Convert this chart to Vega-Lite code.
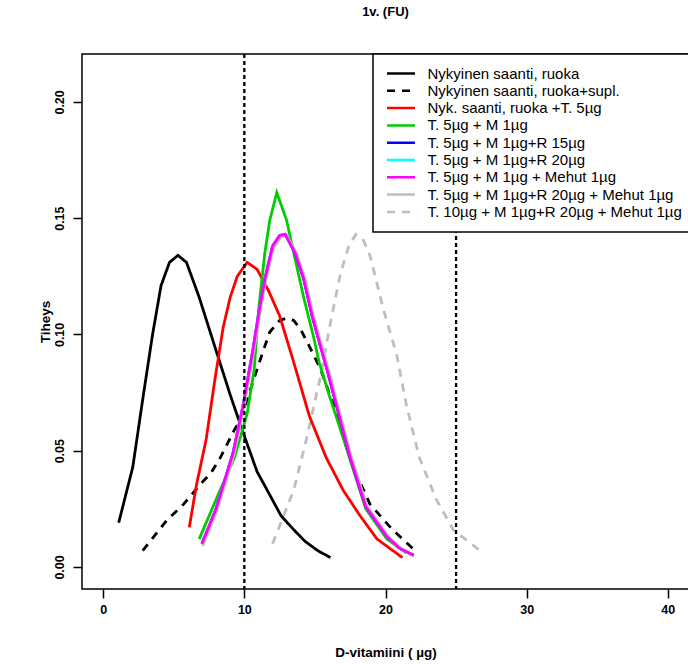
{
  "$schema": "https://vega.github.io/schema/vega-lite/v6.json",
  "width": 607,
  "height": 535,
  "autosize": {"type": "none"},
  "padding": {"left": 82, "top": 54, "right": 0, "bottom": 75},
  "title": {"text": "1v. (FU)", "fontSize": 13, "fontWeight": "bold", "font": "Liberation Sans", "color": "black", "anchor": "middle", "frame": "group", "baseline": "middle", "offset": 28},
  "config": {
    "font": "Liberation Sans",
    "view": {"stroke": "black", "strokeWidth": 1.5},
    "axis": {"domain": false, "grid": false, "tickColor": "black", "tickWidth": 1.5, "tickSize": 9, "labelFont": "Liberation Sans", "labelFontWeight": "bold", "labelFontSize": 12.5, "labelColor": "black", "titleFont": "Liberation Sans", "titleFontWeight": "bold", "titleFontSize": 13.5, "titleColor": "black"},
    "legend": {"orient": "none", "legendX": 291, "legendY": 0, "title": null, "strokeColor": "black", "fillColor": "white", "padding": 12, "labelFontSize": 15, "labelFont": "Liberation Sans", "labelColor": "black", "labelLimit": 500, "symbolType": "M-2.33,0H2.33", "symbolSize": 144, "symbolStrokeWidth": 2.5, "symbolOffset": 8.5, "labelOffset": 19, "rowPadding": 1.3, "cornerRadius": 0}
  },
  "layer": [
    {
      "data": {"values": [
        {"s": "T. 10µg + M 1µg+R 20µg + Mehut 1µg", "x": 12.0, "y": 0.010},
        {"s": "T. 10µg + M 1µg+R 20µg + Mehut 1µg", "x": 13.5, "y": 0.033},
        {"s": "T. 10µg + M 1µg+R 20µg + Mehut 1µg", "x": 14.4, "y": 0.055},
        {"s": "T. 10µg + M 1µg+R 20µg + Mehut 1µg", "x": 15.4, "y": 0.082},
        {"s": "T. 10µg + M 1µg+R 20µg + Mehut 1µg", "x": 16.1, "y": 0.105},
        {"s": "T. 10µg + M 1µg+R 20µg + Mehut 1µg", "x": 16.8, "y": 0.126},
        {"s": "T. 10µg + M 1µg+R 20µg + Mehut 1µg", "x": 17.4, "y": 0.138},
        {"s": "T. 10µg + M 1µg+R 20µg + Mehut 1µg", "x": 17.9, "y": 0.143},
        {"s": "T. 10µg + M 1µg+R 20µg + Mehut 1µg", "x": 18.4, "y": 0.141},
        {"s": "T. 10µg + M 1µg+R 20µg + Mehut 1µg", "x": 18.9, "y": 0.134},
        {"s": "T. 10µg + M 1µg+R 20µg + Mehut 1µg", "x": 19.8, "y": 0.112},
        {"s": "T. 10µg + M 1µg+R 20µg + Mehut 1µg", "x": 20.8, "y": 0.091},
        {"s": "T. 10µg + M 1µg+R 20µg + Mehut 1µg", "x": 21.5, "y": 0.069},
        {"s": "T. 10µg + M 1µg+R 20µg + Mehut 1µg", "x": 22.4, "y": 0.047},
        {"s": "T. 10µg + M 1µg+R 20µg + Mehut 1µg", "x": 23.6, "y": 0.029},
        {"s": "T. 10µg + M 1µg+R 20µg + Mehut 1µg", "x": 24.8, "y": 0.016},
        {"s": "T. 10µg + M 1µg+R 20µg + Mehut 1µg", "x": 26.7, "y": 0.007},

        {"s": "Nykyinen saanti, ruoka", "x": 1.1, "y": 0.019},
        {"s": "Nykyinen saanti, ruoka", "x": 2.1, "y": 0.043},
        {"s": "Nykyinen saanti, ruoka", "x": 2.8, "y": 0.072},
        {"s": "Nykyinen saanti, ruoka", "x": 3.5, "y": 0.100},
        {"s": "Nykyinen saanti, ruoka", "x": 4.1, "y": 0.121},
        {"s": "Nykyinen saanti, ruoka", "x": 4.7, "y": 0.131},
        {"s": "Nykyinen saanti, ruoka", "x": 5.3, "y": 0.134},
        {"s": "Nykyinen saanti, ruoka", "x": 5.9, "y": 0.131},
        {"s": "Nykyinen saanti, ruoka", "x": 6.8, "y": 0.116},
        {"s": "Nykyinen saanti, ruoka", "x": 8.0, "y": 0.093},
        {"s": "Nykyinen saanti, ruoka", "x": 9.0, "y": 0.074},
        {"s": "Nykyinen saanti, ruoka", "x": 9.9, "y": 0.058},
        {"s": "Nykyinen saanti, ruoka", "x": 10.9, "y": 0.041},
        {"s": "Nykyinen saanti, ruoka", "x": 11.8, "y": 0.031},
        {"s": "Nykyinen saanti, ruoka", "x": 12.6, "y": 0.022},
        {"s": "Nykyinen saanti, ruoka", "x": 13.5, "y": 0.016},
        {"s": "Nykyinen saanti, ruoka", "x": 14.3, "y": 0.011},
        {"s": "Nykyinen saanti, ruoka", "x": 15.2, "y": 0.007},
        {"s": "Nykyinen saanti, ruoka", "x": 16.1, "y": 0.004},

        {"s": "Nykyinen saanti, ruoka+supl.", "x": 2.8, "y": 0.007},
        {"s": "Nykyinen saanti, ruoka+supl.", "x": 4.5, "y": 0.020},
        {"s": "Nykyinen saanti, ruoka+supl.", "x": 5.7, "y": 0.027},
        {"s": "Nykyinen saanti, ruoka+supl.", "x": 6.4, "y": 0.032},
        {"s": "Nykyinen saanti, ruoka+supl.", "x": 7.1, "y": 0.037},
        {"s": "Nykyinen saanti, ruoka+supl.", "x": 7.6, "y": 0.040},
        {"s": "Nykyinen saanti, ruoka+supl.", "x": 8.3, "y": 0.047},
        {"s": "Nykyinen saanti, ruoka+supl.", "x": 8.8, "y": 0.053},
        {"s": "Nykyinen saanti, ruoka+supl.", "x": 9.3, "y": 0.059},
        {"s": "Nykyinen saanti, ruoka+supl.", "x": 9.7, "y": 0.063},
        {"s": "Nykyinen saanti, ruoka+supl.", "x": 10.2, "y": 0.072},
        {"s": "Nykyinen saanti, ruoka+supl.", "x": 10.9, "y": 0.085},
        {"s": "Nykyinen saanti, ruoka+supl.", "x": 11.4, "y": 0.094},
        {"s": "Nykyinen saanti, ruoka+supl.", "x": 11.8, "y": 0.101},
        {"s": "Nykyinen saanti, ruoka+supl.", "x": 12.5, "y": 0.106},
        {"s": "Nykyinen saanti, ruoka+supl.", "x": 13.0, "y": 0.107},
        {"s": "Nykyinen saanti, ruoka+supl.", "x": 13.5, "y": 0.106},
        {"s": "Nykyinen saanti, ruoka+supl.", "x": 14.0, "y": 0.102},
        {"s": "Nykyinen saanti, ruoka+supl.", "x": 14.6, "y": 0.095},
        {"s": "Nykyinen saanti, ruoka+supl.", "x": 15.4, "y": 0.085},
        {"s": "Nykyinen saanti, ruoka+supl.", "x": 16.3, "y": 0.070},
        {"s": "Nykyinen saanti, ruoka+supl.", "x": 17.0, "y": 0.056},
        {"s": "Nykyinen saanti, ruoka+supl.", "x": 17.7, "y": 0.043},
        {"s": "Nykyinen saanti, ruoka+supl.", "x": 18.9, "y": 0.027},
        {"s": "Nykyinen saanti, ruoka+supl.", "x": 20.5, "y": 0.016},
        {"s": "Nykyinen saanti, ruoka+supl.", "x": 22.1, "y": 0.007},

        {"s": "Nyk. saanti, ruoka +T. 5µg", "x": 6.1, "y": 0.017},
        {"s": "Nyk. saanti, ruoka +T. 5µg", "x": 6.6, "y": 0.035},
        {"s": "Nyk. saanti, ruoka +T. 5µg", "x": 7.3, "y": 0.055},
        {"s": "Nyk. saanti, ruoka +T. 5µg", "x": 7.9, "y": 0.080},
        {"s": "Nyk. saanti, ruoka +T. 5µg", "x": 8.5, "y": 0.103},
        {"s": "Nyk. saanti, ruoka +T. 5µg", "x": 9.0, "y": 0.116},
        {"s": "Nyk. saanti, ruoka +T. 5µg", "x": 9.5, "y": 0.125},
        {"s": "Nyk. saanti, ruoka +T. 5µg", "x": 10.2, "y": 0.131},
        {"s": "Nyk. saanti, ruoka +T. 5µg", "x": 10.9, "y": 0.128},
        {"s": "Nyk. saanti, ruoka +T. 5µg", "x": 11.7, "y": 0.119},
        {"s": "Nyk. saanti, ruoka +T. 5µg", "x": 12.5, "y": 0.108},
        {"s": "Nyk. saanti, ruoka +T. 5µg", "x": 13.0, "y": 0.098},
        {"s": "Nyk. saanti, ruoka +T. 5µg", "x": 13.5, "y": 0.088},
        {"s": "Nyk. saanti, ruoka +T. 5µg", "x": 14.6, "y": 0.065},
        {"s": "Nyk. saanti, ruoka +T. 5µg", "x": 15.8, "y": 0.047},
        {"s": "Nyk. saanti, ruoka +T. 5µg", "x": 17.0, "y": 0.033},
        {"s": "Nyk. saanti, ruoka +T. 5µg", "x": 18.2, "y": 0.022},
        {"s": "Nyk. saanti, ruoka +T. 5µg", "x": 19.4, "y": 0.012},
        {"s": "Nyk. saanti, ruoka +T. 5µg", "x": 20.3, "y": 0.008},
        {"s": "Nyk. saanti, ruoka +T. 5µg", "x": 21.2, "y": 0.004},

        {"s": "T. 5µg + M 1µg", "x": 6.8, "y": 0.012},
        {"s": "T. 5µg + M 1µg", "x": 8.0, "y": 0.029},
        {"s": "T. 5µg + M 1µg", "x": 9.3, "y": 0.047},
        {"s": "T. 5µg + M 1µg", "x": 10.2, "y": 0.066},
        {"s": "T. 5µg + M 1µg", "x": 10.7, "y": 0.085},
        {"s": "T. 5µg + M 1µg", "x": 11.0, "y": 0.110},
        {"s": "T. 5µg + M 1µg", "x": 11.2, "y": 0.121},
        {"s": "T. 5µg + M 1µg", "x": 11.45, "y": 0.135},
        {"s": "T. 5µg + M 1µg", "x": 11.8, "y": 0.149},
        {"s": "T. 5µg + M 1µg", "x": 12.3, "y": 0.161},
        {"s": "T. 5µg + M 1µg", "x": 13.0, "y": 0.149},
        {"s": "T. 5µg + M 1µg", "x": 13.5, "y": 0.135},
        {"s": "T. 5µg + M 1µg", "x": 14.2, "y": 0.116},
        {"s": "T. 5µg + M 1µg", "x": 14.9, "y": 0.099},
        {"s": "T. 5µg + M 1µg", "x": 15.3, "y": 0.088},
        {"s": "T. 5µg + M 1µg", "x": 16.0, "y": 0.074},
        {"s": "T. 5µg + M 1µg", "x": 16.6, "y": 0.063},
        {"s": "T. 5µg + M 1µg", "x": 17.5, "y": 0.046},
        {"s": "T. 5µg + M 1µg", "x": 18.6, "y": 0.025},
        {"s": "T. 5µg + M 1µg", "x": 20.1, "y": 0.012},
        {"s": "T. 5µg + M 1µg", "x": 21.5, "y": 0.006},

        {"s": "T. 5µg + M 1µg+R 15µg", "x": 7.0, "y": 0.010},
        {"s": "T. 5µg + M 1µg+R 15µg", "x": 8.0, "y": 0.025},
        {"s": "T. 5µg + M 1µg+R 15µg", "x": 9.2, "y": 0.049},
        {"s": "T. 5µg + M 1µg+R 15µg", "x": 9.9, "y": 0.069},
        {"s": "T. 5µg + M 1µg+R 15µg", "x": 10.6, "y": 0.093},
        {"s": "T. 5µg + M 1µg+R 15µg", "x": 11.1, "y": 0.112},
        {"s": "T. 5µg + M 1µg+R 15µg", "x": 11.5, "y": 0.125},
        {"s": "T. 5µg + M 1µg+R 15µg", "x": 12.0, "y": 0.138},
        {"s": "T. 5µg + M 1µg+R 15µg", "x": 12.5, "y": 0.1425},
        {"s": "T. 5µg + M 1µg+R 15µg", "x": 12.9, "y": 0.143},
        {"s": "T. 5µg + M 1µg+R 15µg", "x": 13.6, "y": 0.135},
        {"s": "T. 5µg + M 1µg+R 15µg", "x": 14.2, "y": 0.124},
        {"s": "T. 5µg + M 1µg+R 15µg", "x": 14.8, "y": 0.108},
        {"s": "T. 5µg + M 1µg+R 15µg", "x": 15.3, "y": 0.097},
        {"s": "T. 5µg + M 1µg+R 15µg", "x": 15.9, "y": 0.084},
        {"s": "T. 5µg + M 1µg+R 15µg", "x": 16.5, "y": 0.070},
        {"s": "T. 5µg + M 1µg+R 15µg", "x": 17.5, "y": 0.047},
        {"s": "T. 5µg + M 1µg+R 15µg", "x": 18.6, "y": 0.026},
        {"s": "T. 5µg + M 1µg+R 15µg", "x": 20.1, "y": 0.013},
        {"s": "T. 5µg + M 1µg+R 15µg", "x": 21.0, "y": 0.008},
        {"s": "T. 5µg + M 1µg+R 15µg", "x": 22.0, "y": 0.005},

        {"s": "T. 5µg + M 1µg+R 20µg", "x": 7.0, "y": 0.010},
        {"s": "T. 5µg + M 1µg+R 20µg", "x": 8.0, "y": 0.025},
        {"s": "T. 5µg + M 1µg+R 20µg", "x": 9.2, "y": 0.049},
        {"s": "T. 5µg + M 1µg+R 20µg", "x": 9.9, "y": 0.069},
        {"s": "T. 5µg + M 1µg+R 20µg", "x": 10.6, "y": 0.093},
        {"s": "T. 5µg + M 1µg+R 20µg", "x": 11.1, "y": 0.112},
        {"s": "T. 5µg + M 1µg+R 20µg", "x": 11.5, "y": 0.125},
        {"s": "T. 5µg + M 1µg+R 20µg", "x": 12.0, "y": 0.138},
        {"s": "T. 5µg + M 1µg+R 20µg", "x": 12.5, "y": 0.1425},
        {"s": "T. 5µg + M 1µg+R 20µg", "x": 12.95, "y": 0.143},
        {"s": "T. 5µg + M 1µg+R 20µg", "x": 13.65, "y": 0.135},
        {"s": "T. 5µg + M 1µg+R 20µg", "x": 14.25, "y": 0.124},
        {"s": "T. 5µg + M 1µg+R 20µg", "x": 14.85, "y": 0.108},
        {"s": "T. 5µg + M 1µg+R 20µg", "x": 15.35, "y": 0.097},
        {"s": "T. 5µg + M 1µg+R 20µg", "x": 15.95, "y": 0.084},
        {"s": "T. 5µg + M 1µg+R 20µg", "x": 16.55, "y": 0.070},
        {"s": "T. 5µg + M 1µg+R 20µg", "x": 17.55, "y": 0.047},
        {"s": "T. 5µg + M 1µg+R 20µg", "x": 18.65, "y": 0.026},
        {"s": "T. 5µg + M 1µg+R 20µg", "x": 20.1, "y": 0.013},
        {"s": "T. 5µg + M 1µg+R 20µg", "x": 21.0, "y": 0.008},
        {"s": "T. 5µg + M 1µg+R 20µg", "x": 22.0, "y": 0.005},

        {"s": "T. 5µg + M 1µg+R 20µg + Mehut 1µg", "x": 7.05, "y": 0.009},
        {"s": "T. 5µg + M 1µg+R 20µg + Mehut 1µg", "x": 8.05, "y": 0.024},
        {"s": "T. 5µg + M 1µg+R 20µg + Mehut 1µg", "x": 9.25, "y": 0.048},
        {"s": "T. 5µg + M 1µg+R 20µg + Mehut 1µg", "x": 9.95, "y": 0.068},
        {"s": "T. 5µg + M 1µg+R 20µg + Mehut 1µg", "x": 10.65, "y": 0.092},
        {"s": "T. 5µg + M 1µg+R 20µg + Mehut 1µg", "x": 11.15, "y": 0.111},
        {"s": "T. 5µg + M 1µg+R 20µg + Mehut 1µg", "x": 11.55, "y": 0.124},
        {"s": "T. 5µg + M 1µg+R 20µg + Mehut 1µg", "x": 12.05, "y": 0.137},
        {"s": "T. 5µg + M 1µg+R 20µg + Mehut 1µg", "x": 12.6, "y": 0.142},
        {"s": "T. 5µg + M 1µg+R 20µg + Mehut 1µg", "x": 13.0, "y": 0.1425},
        {"s": "T. 5µg + M 1µg+R 20µg + Mehut 1µg", "x": 13.7, "y": 0.135},
        {"s": "T. 5µg + M 1µg+R 20µg + Mehut 1µg", "x": 14.3, "y": 0.124},
        {"s": "T. 5µg + M 1µg+R 20µg + Mehut 1µg", "x": 14.9, "y": 0.108},
        {"s": "T. 5µg + M 1µg+R 20µg + Mehut 1µg", "x": 15.4, "y": 0.097},
        {"s": "T. 5µg + M 1µg+R 20µg + Mehut 1µg", "x": 16.0, "y": 0.084},
        {"s": "T. 5µg + M 1µg+R 20µg + Mehut 1µg", "x": 16.6, "y": 0.070},
        {"s": "T. 5µg + M 1µg+R 20µg + Mehut 1µg", "x": 17.6, "y": 0.047},
        {"s": "T. 5µg + M 1µg+R 20µg + Mehut 1µg", "x": 18.7, "y": 0.026},
        {"s": "T. 5µg + M 1µg+R 20µg + Mehut 1µg", "x": 20.2, "y": 0.013},
        {"s": "T. 5µg + M 1µg+R 20µg + Mehut 1µg", "x": 21.1, "y": 0.008},
        {"s": "T. 5µg + M 1µg+R 20µg + Mehut 1µg", "x": 22.0, "y": 0.005},

        {"s": "T. 5µg + M 1µg + Mehut 1µg", "x": 7.0, "y": 0.010},
        {"s": "T. 5µg + M 1µg + Mehut 1µg", "x": 8.0, "y": 0.025},
        {"s": "T. 5µg + M 1µg + Mehut 1µg", "x": 9.2, "y": 0.049},
        {"s": "T. 5µg + M 1µg + Mehut 1µg", "x": 9.9, "y": 0.069},
        {"s": "T. 5µg + M 1µg + Mehut 1µg", "x": 10.6, "y": 0.093},
        {"s": "T. 5µg + M 1µg + Mehut 1µg", "x": 11.1, "y": 0.112},
        {"s": "T. 5µg + M 1µg + Mehut 1µg", "x": 11.5, "y": 0.125},
        {"s": "T. 5µg + M 1µg + Mehut 1µg", "x": 12.0, "y": 0.138},
        {"s": "T. 5µg + M 1µg + Mehut 1µg", "x": 12.5, "y": 0.1425},
        {"s": "T. 5µg + M 1µg + Mehut 1µg", "x": 12.9, "y": 0.143},
        {"s": "T. 5µg + M 1µg + Mehut 1µg", "x": 13.6, "y": 0.135},
        {"s": "T. 5µg + M 1µg + Mehut 1µg", "x": 14.2, "y": 0.124},
        {"s": "T. 5µg + M 1µg + Mehut 1µg", "x": 14.8, "y": 0.108},
        {"s": "T. 5µg + M 1µg + Mehut 1µg", "x": 15.3, "y": 0.097},
        {"s": "T. 5µg + M 1µg + Mehut 1µg", "x": 15.9, "y": 0.084},
        {"s": "T. 5µg + M 1µg + Mehut 1µg", "x": 16.5, "y": 0.070},
        {"s": "T. 5µg + M 1µg + Mehut 1µg", "x": 17.5, "y": 0.047},
        {"s": "T. 5µg + M 1µg + Mehut 1µg", "x": 18.6, "y": 0.026},
        {"s": "T. 5µg + M 1µg + Mehut 1µg", "x": 20.1, "y": 0.013},
        {"s": "T. 5µg + M 1µg + Mehut 1µg", "x": 21.0, "y": 0.008},
        {"s": "T. 5µg + M 1µg + Mehut 1µg", "x": 22.0, "y": 0.005}
      ]},
      "mark": {"type": "line", "strokeWidth": 2.8, "clip": true},
      "encoding": {
        "x": {"field": "x", "type": "quantitative", "scale": {"domain": [-1.5, 41.5], "nice": false, "zero": false},
              "axis": {"values": [0, 10, 20, 30, 40], "title": "D-vitamiini ( µg)", "labelPadding": 5, "titleY": 63, "titleBaseline": "middle", "titleAnchor": "middle"}},
        "y": {"field": "y", "type": "quantitative", "scale": {"domain": [-0.0095, 0.2206], "nice": false, "zero": false},
              "axis": {"values": [0, 0.05, 0.1, 0.15, 0.2], "format": ".2f", "title": "Tiheys", "labelAngle": 270, "labelAlign": "center", "labelBaseline": "bottom", "labelPadding": 7, "titleAngle": 270, "titleX": -37, "titleBaseline": "middle", "titleAlign": "center"}},
        "color": {"field": "s", "type": "nominal",
          "scale": {"domain": ["Nykyinen saanti, ruoka", "Nykyinen saanti, ruoka+supl.", "Nyk. saanti, ruoka +T. 5µg", "T. 5µg + M 1µg", "T. 5µg + M 1µg+R 15µg", "T. 5µg + M 1µg+R 20µg", "T. 5µg + M 1µg + Mehut 1µg", "T. 5µg + M 1µg+R 20µg + Mehut 1µg", "T. 10µg + M 1µg+R 20µg + Mehut 1µg"],
                    "range": ["#000000", "#000000", "#FF0000", "#00CD00", "#0000FF", "#00FFFF", "#FF00FF", "#BEBEBE", "#BEBEBE"]},
          "legend": {"title": null, "encode": {"legend": {"update": {"strokeWidth": {"value": 1.5}}}}}},
        "strokeDash": {"field": "s", "type": "nominal",
          "scale": {"domain": ["Nykyinen saanti, ruoka", "Nykyinen saanti, ruoka+supl.", "Nyk. saanti, ruoka +T. 5µg", "T. 5µg + M 1µg", "T. 5µg + M 1µg+R 15µg", "T. 5µg + M 1µg+R 20µg", "T. 5µg + M 1µg + Mehut 1µg", "T. 5µg + M 1µg+R 20µg + Mehut 1µg", "T. 10µg + M 1µg+R 20µg + Mehut 1µg"],
                    "range": [[1, 0], [8, 7], [1, 0], [1, 0], [1, 0], [1, 0], [1, 0], [1, 0], [8, 7]]},
          "legend": {"title": null, "encode": {"legend": {"update": {"strokeWidth": {"value": 1.5}}}}}}
      }
    },
    {
      "data": {"values": [{"v": 10}, {"v": 25}]},
      "mark": {"type": "rule", "strokeDash": [4, 3], "strokeWidth": 2.3, "color": "black"},
      "encoding": {"x": {"field": "v", "type": "quantitative"}}
    }
  ]
}
